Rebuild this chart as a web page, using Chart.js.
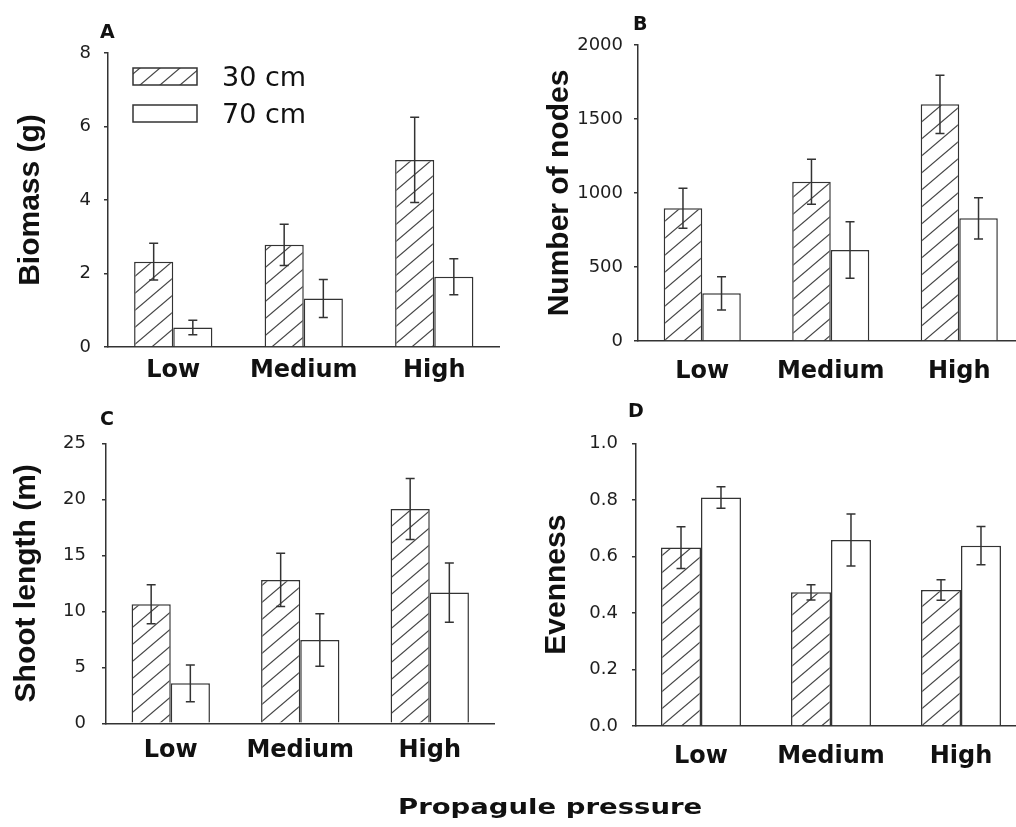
<!DOCTYPE html>
<html><head><meta charset="utf-8">
<script src="https://cdn.jsdelivr.net/npm/chart.js@4"></script>
<style>
html,body{margin:0;padding:0;background:#fff;overflow:hidden;width:1016px;height:827px;}
#wrap{position:relative;width:1016px;height:827px;overflow:hidden;background:#fff;}
.pc{position:absolute;}
#xtitle{position:absolute;left:398px;top:796px;font-family:"DejaVu Sans";font-weight:bold;font-size:22px;line-height:22px;color:#111;white-space:nowrap;transform:scaleX(1.25);transform-origin:0 0;}
</style></head><body>
<div id="wrap">
<div class="pc" style="left:0;top:0;"><canvas id="cA" width="505" height="400"></canvas></div>
<div class="pc" style="left:505px;top:0;"><canvas id="cB" width="525" height="400"></canvas></div>
<div class="pc" style="left:0;top:400px;"><canvas id="cC" width="505" height="400"></canvas></div>
<div class="pc" style="left:505px;top:400px;"><canvas id="cD" width="525" height="400"></canvas></div>
<div id="xtitle">Propagule pressure</div>
</div>
<script>
const categories = ['Low', 'Medium', 'High'];
const seriesLabels = ['30 cm', '70 cm'];

const biomass30 = [2.32, 2.78, 5.09];
const biomass30Err = [0.50, 0.56, 1.16];
const biomass70 = [0.53, 1.32, 1.91];
const biomass70Err = [0.20, 0.52, 0.49];

const nodes30 = [897, 1076, 1599];
const nodes30Err = [135, 152, 197];
const nodes70 = [322, 615, 829];
const nodes70Err = [112, 191, 139];

const shoot30 = [10.63, 12.8, 19.14];
const shoot30Err = [1.74, 2.38, 2.72];
const shoot70 = [3.57, 7.44, 11.67];
const shoot70Err = [1.64, 2.35, 2.65];

const even30 = [0.631, 0.473, 0.481];
const even30Err = [0.074, 0.027, 0.036];
const even70 = [0.808, 0.658, 0.638];
const even70Err = [0.038, 0.092, 0.068];

const biomassTicks = [0, 2, 4, 6, 8];
const nodesTicks = [0, 500, 1000, 1500, 2000];
const shootTicks = [0, 5, 10, 15, 20, 25];
const evenTicks = [0, 0.2, 0.4, 0.6, 0.8, 1.0];

function makeHatch() {
  const c = document.createElement('canvas');
  c.width = 20; c.height = 17;
  const g = c.getContext('2d');
  g.fillStyle = '#fff'; g.fillRect(0, 0, 20, 17);
  g.strokeStyle = '#444'; g.lineWidth = 1.2;
  [-20, 0, 20].forEach(dx => {
    g.beginPath();
    g.moveTo(dx - 2, 17 + 1.7);
    g.lineTo(dx + 22, -1.7);
    g.stroke();
  });
  return g.createPattern(c, 'repeat');
}
const hatch = makeHatch();

const errorBars = {
  id: 'errorBars',
  afterDatasetsDraw(chart) {
    const ctx = chart.ctx, ys = chart.scales.y;
    ctx.save();
    ctx.strokeStyle = '#333'; ctx.lineWidth = 1.5;
    chart.data.datasets.forEach((ds, i) => {
      chart.getDatasetMeta(i).data.forEach((bar, j) => {
        const v = ds.data[j], e = ds.errors[j];
        const x = bar.x, yt = ys.getPixelForValue(v + e), yb = ys.getPixelForValue(v - e);
        ctx.beginPath();
        ctx.moveTo(x, yt); ctx.lineTo(x, yb);
        ctx.moveTo(x - 4.5, yt); ctx.lineTo(x + 4.5, yt);
        ctx.moveTo(x - 4.5, yb); ctx.lineTo(x + 4.5, yb);
        ctx.stroke();
      });
    });
    ctx.restore();
  }
};

const boxLegend = {
  id: 'boxLegend',
  afterDraw(chart, args, o) {
    if (!o.show) return;
    const ctx = chart.ctx;
    ctx.save();
    chart.data.datasets.forEach((ds, i) => {
      const by = o.y + i * o.gap;
      ctx.fillStyle = ds.backgroundColor;
      ctx.fillRect(o.x, by, o.w, o.h);
      ctx.strokeStyle = '#333'; ctx.lineWidth = 1.5;
      ctx.strokeRect(o.x, by, o.w, o.h);
      ctx.fillStyle = '#111';
      ctx.font = '27px "DejaVu Sans"';
      ctx.textBaseline = 'alphabetic'; ctx.textAlign = 'left';
      ctx.fillText(ds.label, o.tx, o.ty + i * o.gap);
    });
    ctx.restore();
  }
};

const panelLetter = {
  id: 'panelLetter',
  afterDraw(chart, args, o) {
    const ctx = chart.ctx;
    ctx.save();
    ctx.fillStyle = '#111';
    ctx.font = 'bold 19px "DejaVu Sans"';
    ctx.textBaseline = 'alphabetic'; ctx.textAlign = 'left';
    ctx.fillText(o.text, o.x, o.y);
    ctx.restore();
  }
};

function panel(id, p) {
  return new Chart(document.getElementById(id), {
    type: 'bar',
    data: {
      labels: categories,
      datasets: [
        { label: seriesLabels[0], data: p.d30, errors: p.e30, backgroundColor: hatch, borderColor: '#333', borderWidth: 1.5 },
        { label: seriesLabels[1], data: p.d70, errors: p.e70, backgroundColor: '#fff', borderColor: '#333', borderWidth: 1.5 }
      ]
    },
    options: {
      responsive: false, animation: false, devicePixelRatio: 1,
      layout: { padding: { top: p.top, right: p.right, left: 0, bottom: 0 } },
      datasets: { bar: { categoryPercentage: p.cat, barPercentage: 1 } },
      plugins: {
        legend: { display: false }, tooltip: { enabled: false },
        boxLegend: p.legend || { show: false },
        panelLetter: p.letter
      },
      scales: {
        x: {
          grid: { display: false, drawTicks: false },
          border: { display: true, color: '#333', width: 1.5 },
          ticks: { font: { family: 'DejaVu Sans', weight: 'bold', size: 24 }, color: '#111', padding: p.xpad, maxRotation: 0, autoSkip: false },
          afterFit(s) { s.height = p.xh; }
        },
        y: {
          min: 0, max: p.ticks[p.ticks.length - 1],
          afterBuildTicks(s) { s.ticks = p.ticks.map(v => ({ value: v })); },
          grid: { drawOnChartArea: false, drawTicks: true, tickLength: 4, color: '#333', lineWidth: 1.5 },
          border: { display: true, color: '#333', width: 1.5 },
          ticks: { font: { family: 'DejaVu Sans', size: 18 }, color: '#1e1e1e', padding: p.ypad, callback: p.fmt },
          title: { display: true, text: p.title, font: { family: 'Liberation Sans', weight: 'bold', size: 30 }, color: '#111', padding: { top: p.tpad, bottom: 0 } },
          afterFit(s) { s.width = p.yw; }
        }
      }
    },
    plugins: [errorBars, boxLegend, panelLetter]
  });
}

const intFmt = v => String(v);
const oneFmt = v => Number(v).toFixed(1);

panel('cA', { d30: biomass30, e30: biomass30Err, d70: biomass70, e70: biomass70Err, ticks: biomassTicks, fmt: intFmt,
  title: 'Biomass (g)', top: 53, right: 5.5, xh: 53, yw: 108, xpad: 9, ypad: 13, tpad: 13, cat: 0.6,
  letter: { text: 'A', x: 100, y: 38 },
  legend: { show: true, x: 133, y: 68, w: 64, h: 17, gap: 37, tx: 222, ty: 86 } });

panel('cB', { d30: nodes30, e30: nodes30Err, d70: nodes70, e70: nodes70Err, ticks: nodesTicks, fmt: intFmt,
  title: 'Number of nodes', top: 45, right: 6.5, xh: 59, yw: 133, xpad: 16, ypad: 11, tpad: 37, cat: 0.6,
  letter: { text: 'B', x: 128, y: 30 } });

panel('cC', { d30: shoot30, e30: shoot30Err, d70: shoot70, e70: shoot70Err, ticks: shootTicks, fmt: intFmt,
  title: 'Shoot length (m)', top: 43.3, right: 10.5, xh: 76.7, yw: 106, xpad: 13, ypad: 16, tpad: 9, cat: 0.605,
  letter: { text: 'C', x: 100, y: 25 } });

panel('cD', { d30: even30, e30: even30Err, d70: even70, e70: even70Err, ticks: evenTicks, fmt: oneFmt,
  title: 'Evenness', top: 43.3, right: 4, xh: 74, yw: 131, xpad: 16, ypad: 14, tpad: 34, cat: 0.615,
  letter: { text: 'D', x: 123, y: 17 } });
</script>
</body></html>
